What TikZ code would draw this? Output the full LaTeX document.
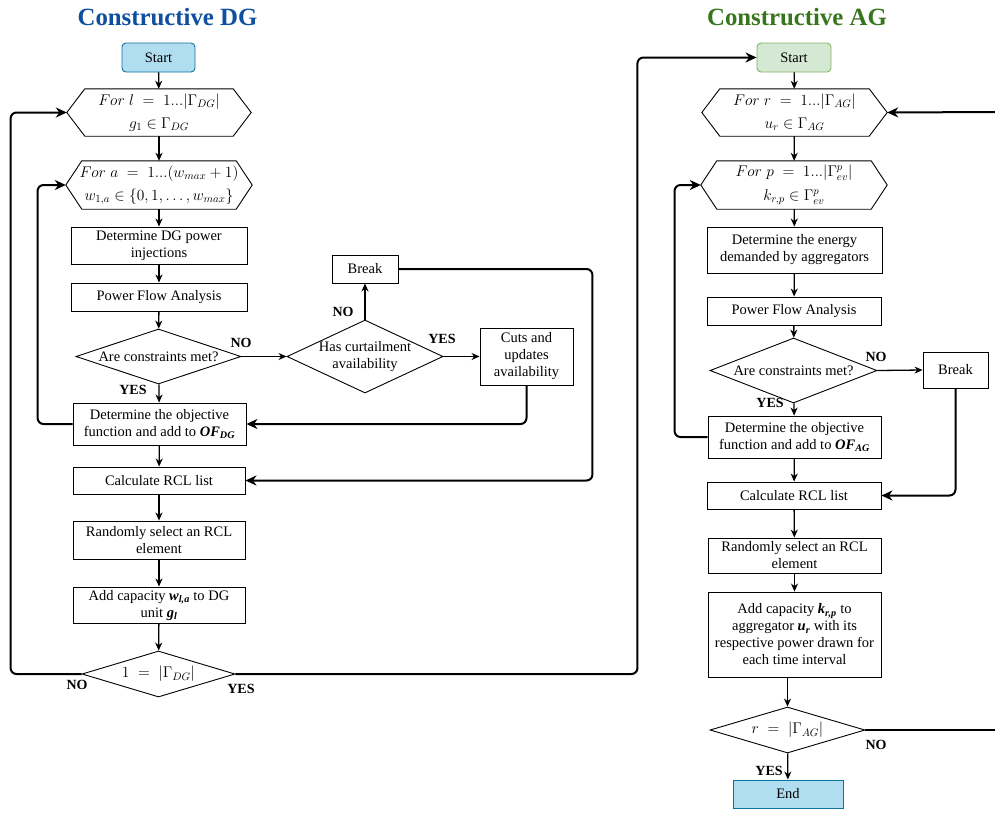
\RequirePackage{fix-cm}
\documentclass[tikz,border=0pt]{standalone}
\usepackage{fontspec}
\setmainfont{Liberation Serif}
\usetikzlibrary{arrows.meta,shapes.geometric}

\definecolor{dgblue}{HTML}{0F4FA0}
\definecolor{aggreen}{HTML}{38761D}
\definecolor{startfill}{HTML}{B1DDF0}
\definecolor{startdraw}{HTML}{10739E}
\definecolor{agfill}{HTML}{D5E8D4}
\definecolor{agdraw}{HTML}{82B366}

\begin{document}
\begin{tikzpicture}[x=1pt,y=-1pt,
  font=\fontsize{14.5}{17}\selectfont,
  box/.style={draw, line width=0.9pt, align=center, inner sep=0pt},
  startbox/.style={box, rounded corners=4pt, fill=startfill, draw=startdraw},
  agstart/.style={box, rounded corners=4pt, fill=agfill, draw=agdraw},
  hexnode/.style={align=center, inner sep=0pt, font=\fontsize{15.5}{17}\selectfont},
  dia/.style={draw, diamond, line width=0.9pt, inner sep=0pt},
  dtext/.style={align=center, inner sep=0pt},
  title/.style={font=\fontsize{24.8}{28}\selectfont\bfseries},
  lbl/.style={font=\fontsize{14}{16}\selectfont\bfseries},
  arr/.style={line width=1.3pt, -{Stealth[length=8pt,width=7pt,inset=2.5pt]}},
  thk/.style={line width=2pt, rounded corners=6pt, -{Stealth[length=11pt,width=10pt,inset=3.5pt]}},
  thkn/.style={line width=2pt, rounded corners=6pt},
]
\useasboundingbox (0,0) rectangle (995,812);

% ---------------- Titles ----------------
\node[title, text=dgblue] (tDG) at (167.5,17) {Constructive DG};
\node[title, text=aggreen] (tAG) at (797,17) {Constructive AG};

% ---------------- DG column ----------------
\node[startbox, minimum width=73, minimum height=29] (sDG) at (158.5,57.5) {Start};

\node[hexnode, minimum width=184, minimum height=47] (h1) at (159,112.5)
  {$For\;l\;=\;1...|\Gamma_{DG}|$\\[6pt]$g_1\in\Gamma_{DG}$};
\draw[line width=0.9pt] (h1.west) -- ([xshift=18]h1.north west) -- ([xshift=-18]h1.north east)
  -- (h1.east) -- ([xshift=-18]h1.south east) -- ([xshift=18]h1.south west) -- cycle;

\node[hexnode, minimum width=186, minimum height=48] (h2) at (159,185)
  {$For\;a\;=\;1...(w_{max}+1)$\\[6pt]$w_{1,a}\in\{0,1,\ldots,w_{max}\}$};
\draw[line width=0.9pt] (h2.west) -- ([xshift=16]h2.north west) -- ([xshift=-16]h2.north east)
  -- (h2.east) -- ([xshift=-16]h2.south east) -- ([xshift=16]h2.south west) -- cycle;

\node[box, minimum width=176, minimum height=37] (inj) at (159,245.5) {Determine DG power\\injections};
\node[box, minimum width=176, minimum height=28] (pfa) at (159,297) {Power Flow Analysis};
\node[dia, minimum width=165, minimum height=55] (d1) at (158.5,356.5) {};
\node[dtext] (d1t) at (d1) {Are constraints met?};
\node[box, minimum width=173, minimum height=42] (obj) at (159.5,424)
  {Determine the objective\\function and add to \textbf{\textit{OF\textsubscript{DG}}}};
\node[box, minimum width=172, minimum height=27] (rcl) at (159,480.5) {Calculate RCL list};
\node[box, minimum width=172, minimum height=38] (rnd) at (159,540) {Randomly select an RCL\\element};
\node[box, minimum width=172, minimum height=36] (add) at (159,605)
  {Add capacity \textbf{\textit{w\textsubscript{l,a}}} to DG\\unit \textbf{\textit{g\textsubscript{l}}}};
\node[dia, minimum width=153, minimum height=46] (d2) at (158.5,674) {};
\node[dtext, font=\fontsize{15.5}{17}\selectfont] (d2t) at (d2) {$1\;=\;|\Gamma_{DG}|$};

\node[dia, minimum width=156, minimum height=73] (hca) at (365,356.5) {};
\node[dtext] (hcat) at (hca) {Has curtailment\\availability};
\node[box, minimum width=66, minimum height=28] (brk) at (365,269) {Break};
\node[box, minimum width=93, minimum height=57] (cut) at (526.5,356.5) {Cuts and\\updates\\availability};

% DG connectors
\draw[arr] (sDG) -- (h1);
\draw[arr] (h1) -- (h2);
\draw[arr] (h2) -- (inj);
\draw[arr] (inj) -- (pfa);
\draw[arr] (pfa) -- (d1);
\draw[arr] (d1) -- (obj);
\draw[arr] (obj) -- (rcl);
\draw[arr] (rcl) -- (rnd);
\draw[arr] (rnd) -- (add);
\draw[arr] (add) -- (d2);
\draw[arr] (d1.east) -- (hca.west);
\draw[arr] (hca.north) -- (brk.south);
\draw[arr] (hca.east) -- (cut.west);
\draw[thk] (cut.south) |- (obj.east);
\draw[thk] (brk.east) -- ++(194,0) |- (rcl.east);
\draw[thk] (obj.west) -- ++(-35,0) |- (h2.west);
\draw[thk] (d2.west) -- ++(-71,0) |- (h1.west);

\node[lbl] (lNO1) at (241,343) {NO};
\node[lbl] (lYES1) at (133,390) {YES};
\node[lbl] (lNO2) at (343,312) {NO};
\node[lbl] (lYES2) at (442,339) {YES};
\node[lbl] (lNO3) at (77,685) {NO};
\node[lbl] (lYES3) at (241,689) {YES};

% ---------------- AG column ----------------
\node[agstart, minimum width=74, minimum height=29] (sAG) at (794,57.5) {Start};

\node[hexnode, minimum width=185, minimum height=47] (hr) at (794.5,112.5)
  {$For\;r\;=\;1...|\Gamma_{AG}|$\\[6pt]$u_r\in\Gamma_{AG}$};
\draw[line width=0.9pt] (hr.west) -- ([xshift=18]hr.north west) -- ([xshift=-18]hr.north east)
  -- (hr.east) -- ([xshift=-18]hr.south east) -- ([xshift=18]hr.south west) -- cycle;

\node[hexnode, minimum width=186, minimum height=48] (hp) at (794,185)
  {$For\;p\;=\;1...|\Gamma^p_{ev}|$\\[7pt]$k_{r,p}\in\Gamma^p_{ev}$};
\draw[line width=0.9pt] (hp.west) -- ([xshift=16]hp.north west) -- ([xshift=-16]hp.north east)
  -- (hp.east) -- ([xshift=-16]hp.south east) -- ([xshift=16]hp.south west) -- cycle;

\node[box, minimum width=175, minimum height=46] (eng) at (794.5,250) {Determine the energy\\demanded by aggregators};
\node[box, minimum width=174, minimum height=28] (pfaA) at (794,311) {Power Flow Analysis};
\node[dia, minimum width=167, minimum height=65] (dA1) at (793.5,370.5) {};
\node[dtext] (dA1t) at (dA1) {Are constraints met?};
\node[box, minimum width=65, minimum height=36] (brkA) at (955.5,370) {Break};
\node[box, minimum width=173, minimum height=42] (objA) at (794.5,437)
  {Determine the objective\\function and add to \textbf{\textit{OF\textsubscript{AG}}}};
\node[box, minimum width=174, minimum height=27] (rclA) at (794,495.5) {Calculate RCL list};
\node[box, minimum width=173, minimum height=35] (rndA) at (794.5,555.5) {Randomly select an RCL\\element};
\node[box, minimum width=173, minimum height=85] (addA) at (794.5,634.5)
  {Add capacity \textbf{\textit{k\textsubscript{r,p}}} to\\aggregator \textbf{\textit{u\textsubscript{r}}} with its\\respective power drawn for\\each time interval};
\node[dia, minimum width=155, minimum height=46] (dA2) at (787.5,730) {};
\node[dtext, font=\fontsize{15.5}{17}\selectfont] (dA2t) at (dA2) {$r\;=\;|\Gamma_{AG}|$};
\node[box, fill=startfill, draw=startdraw, minimum width=110, minimum height=28] (endA) at (788,794) {End};

\coordinate (eA) at (995,730);
\coordinate (eB) at (995,112);

% AG connectors
\draw[arr] (sAG) -- (hr);
\draw[arr] (hr) -- (hp);
\draw[arr] (hp) -- (eng);
\draw[arr] (eng) -- (pfaA);
\draw[arr] (pfaA) -- (dA1);
\draw[arr] (dA1) -- (objA);
\draw[arr] (dA1.east) -- (brkA.west);
\draw[arr] (objA) -- (rclA);
\draw[arr] (rclA) -- (rndA);
\draw[arr] (rndA) -- (addA);
\draw[arr] (addA.south -| dA2.north) -- (dA2.north);
\draw[arr] (dA2) -- (endA);
\draw[thk] (brkA.south) |- (rclA.east);
\draw[thk] (objA.west) -- ++(-33,0) |- (hp.west);
\draw[thkn] (dA2.east) -- (eA);
\draw[thk] (eB) -- (hr.east);

% DG -> AG
\draw[thk] (d2.east) -- ++(402,0) |- (sAG.west);

\node[lbl] (lNO4) at (876,357) {NO};
\node[lbl] (lYES4) at (770,403) {YES};
\node[lbl] (lNO5) at (876,745) {NO};
\node[lbl] (lYES5) at (769,771) {YES};
\end{tikzpicture}
\end{document}
